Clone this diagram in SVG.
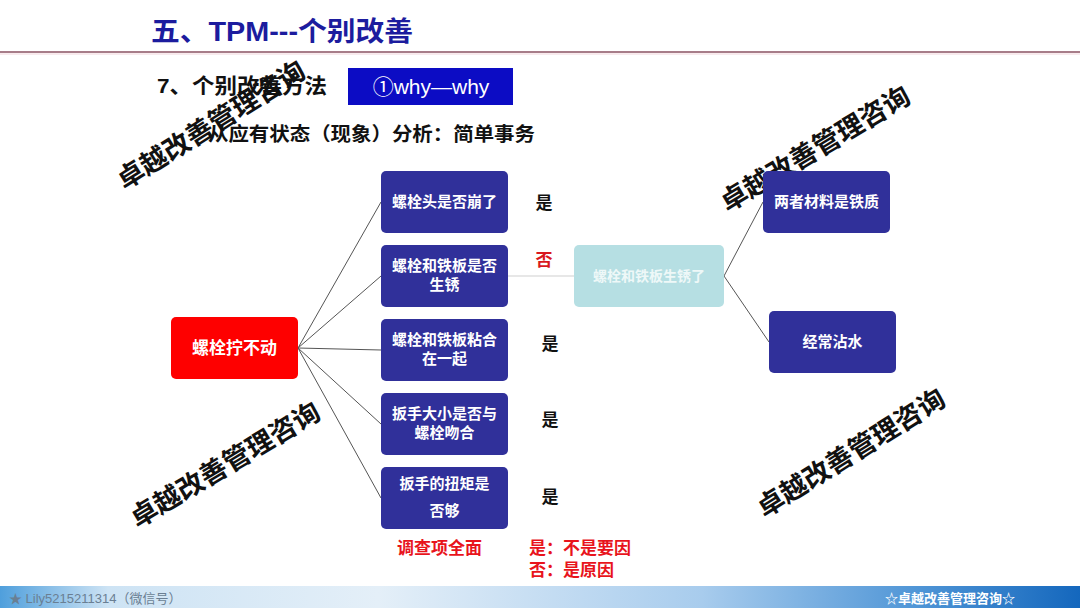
<svg xmlns="http://www.w3.org/2000/svg" width="1080" height="608" viewBox="0 0 1080 608">
<defs>
<linearGradient id="bar" x1="0" y1="0" x2="1" y2="0">
<stop offset="0" stop-color="#4f9fdc"/>
<stop offset="0.1" stop-color="#cde3f4"/>
<stop offset="0.35" stop-color="#e4eff8"/>
<stop offset="0.65" stop-color="#a8cced"/>
<stop offset="0.85" stop-color="#4f95d6"/>
<stop offset="1" stop-color="#1467bd"/>
</linearGradient>
<style>
text{font-family:"Liberation Sans","Noto Sans CJK SC",sans-serif;}
.nb{fill:#30309a;}
.nt{fill:#ffffff;font-size:15px;font-weight:bold;text-anchor:middle;}
.yes{fill:#111111;font-size:17px;font-weight:bold;text-anchor:middle;}
.wm{fill:#111111;font-size:27px;font-weight:bold;text-anchor:middle;}
.conn line{stroke:#555555;stroke-width:1;}
.red{fill:#e8141c;font-size:17px;font-weight:bold;}
</style>
</defs>
<rect width="1080" height="608" fill="#ffffff"/>

<!-- header -->
<text x="282" y="41" font-size="27" font-weight="bold" fill="#1c1c9e" text-anchor="middle" textLength="262" lengthAdjust="spacingAndGlyphs">五、TPM---个别改善</text>
<line x1="0" y1="52" x2="1080" y2="52" stroke="#8a5262" stroke-width="1.6"/>
<line x1="0" y1="54" x2="1080" y2="54" stroke="#f2d6dc" stroke-width="1"/>

<text x="157" y="93" font-size="21" fill="#111" font-weight="bold" textLength="170" lengthAdjust="spacingAndGlyphs">7、个别改善方法</text>
<g id="why">
<rect x="348" y="68" width="165" height="37" fill="#0c0cc4"/>
<text x="431" y="94" font-size="21" fill="#ffffff" text-anchor="middle">①why—why</text>
</g>
<text x="208" y="141" font-size="19" fill="#111" font-weight="bold" textLength="327" lengthAdjust="spacingAndGlyphs">从应有状态（现象）分析：简单事务</text>

<!-- watermarks -->
<text class="wm" transform="translate(216,133) rotate(-32)">卓越改善管理咨询</text>
<text class="wm" transform="translate(230,473) rotate(-31)">卓越改善管理咨询</text>
<text class="wm" transform="translate(820,157) rotate(-31)">卓越改善管理咨询</text>
<text class="wm" transform="translate(856,461) rotate(-32)">卓越改善管理咨询</text>

<!-- connectors -->
<g id="connectors" class="conn">
<line x1="298" y1="348" x2="381" y2="202"/>
<line x1="298" y1="348" x2="381" y2="276"/>
<line x1="298" y1="348" x2="381" y2="350"/>
<line x1="298" y1="348" x2="381" y2="424"/>
<line x1="298" y1="348" x2="381" y2="498"/>
<line x1="508" y1="276" x2="574" y2="276" style="stroke:#cfcfcf"/>
<line x1="724" y1="276" x2="763" y2="202"/>
<line x1="724" y1="276" x2="769" y2="342"/>
</g>

<!-- nodes -->
<g id="root">
<rect x="171" y="317" width="127" height="62" rx="5" fill="#fe0000"/>
<text x="234.5" y="354" class="nt" style="font-size:17px">螺栓拧不动</text>
</g>
<g id="n1">
<rect class="nb" x="381" y="171" width="127" height="62" rx="5"/>
<text x="444.5" y="207" class="nt">螺栓头是否崩了</text>
</g>
<g id="n2">
<rect class="nb" x="381" y="245" width="127" height="62" rx="5"/>
<text x="444.5" y="271" class="nt">螺栓和铁板是否</text>
<text x="444.5" y="290" class="nt">生锈</text>
</g>
<g id="n3">
<rect class="nb" x="381" y="319" width="127" height="62" rx="5"/>
<text x="444.5" y="345" class="nt">螺栓和铁板粘合</text>
<text x="444.5" y="364" class="nt">在一起</text>
</g>
<g id="n4">
<rect class="nb" x="381" y="393" width="127" height="62" rx="5"/>
<text x="444.5" y="419" class="nt">扳手大小是否与</text>
<text x="444.5" y="438" class="nt">螺栓吻合</text>
</g>
<g id="n5">
<rect class="nb" x="381" y="467" width="127" height="62" rx="5"/>
<text x="444.5" y="489" class="nt">扳手的扭矩是</text>
<text x="444.5" y="516" class="nt">否够</text>
</g>
<g id="rust">
<rect x="574" y="245" width="150" height="62" rx="5" fill="#b6dfe3"/>
<text x="649" y="281" class="nt" style="fill:#eef8f8;font-size:14px">螺栓和铁板生锈了</text>
</g>
<g id="iron">
<rect class="nb" x="763" y="171" width="127" height="62" rx="5"/>
<text x="826.5" y="207" class="nt">两者材料是铁质</text>
</g>
<g id="water">
<rect class="nb" x="769" y="311" width="127" height="62" rx="5"/>
<text x="832.5" y="347" class="nt">经常沾水</text>
</g>

<!-- yes/no labels -->
<text x="544" y="209" class="yes">是</text>
<text x="544" y="266" class="yes" style="fill:#d9181e">否</text>
<text x="550" y="350" class="yes">是</text>
<text x="550" y="426" class="yes">是</text>
<text x="550" y="503" class="yes">是</text>

<text x="397" y="554" class="red">调查项全面</text>
<text x="529" y="554" class="red">是：不是要因</text>
<text x="529" y="576" class="red">否：是原因</text>

<!-- footer -->
<rect x="0" y="586" width="1080" height="22" fill="url(#bar)"/>
<text x="9" y="603" font-size="13" fill="#6a7f93">★ Lily5215211314（微信号）</text>
<text x="950" y="603" font-size="13" fill="#ffffff" font-weight="bold" text-anchor="middle">☆卓越改善管理咨询☆</text>
</svg>
